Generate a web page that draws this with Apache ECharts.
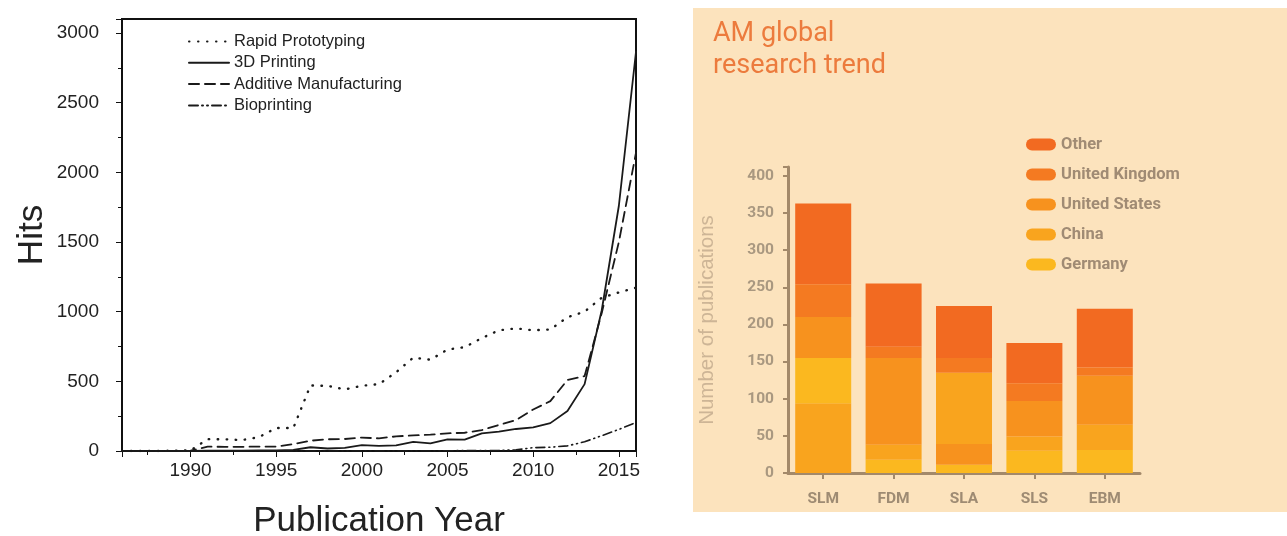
<!DOCTYPE html>
<html>
<head>
<meta charset="utf-8">
<script src="https://cdn.jsdelivr.net/npm/echarts@6/dist/echarts.min.js"></script>
<style>
html,body{margin:0;padding:0;background:#ffffff;}
#chart{width:1287px;height:536px;}
</style>
</head>
<body>
<div id="chart"></div>
<script>
// ---------- Left chart: hits per publication year ----------
const years = [1986,1987,1988,1989,1990,1991,1992,1993,1994,1995,1996,1997,1998,1999,2000,2001,2002,2003,2004,2005,2006,2007,2008,2009,2010,2011,2012,2013,2014,2015,2016];
const rapidPrototyping = [0,0,0,2,5,85,84,78,100,165,165,470,468,442,468,480,565,670,655,728,745,810,866,880,866,872,960,1000,1100,1138,1172];
const printing3D = [0,0,0,0,0,2,3,3,4,5,8,27,18,22,42,37,40,65,55,84,82,127,139,158,170,200,287,480,1010,1760,2865];
const additiveManufacturing = [0,0,0,0,2,31,30,30,32,32,50,74,84,86,96,91,105,112,117,127,131,150,187,222,298,358,510,538,990,1500,2140];
const bioprinting = [0,0,0,0,0,0,0,0,0,0,0,0,0,0,0,0,0,0,0,2,3,3,5,8,24,27,37,66,110,155,205];

// ---------- Right chart: AM global research trend ----------
const processes = ['SLM','FDM','SLA','SLS','EBM'];
const germany = [61,18,11,30,31];
const china = [94,20,96,19,34];
const unitedStates = [55,117,28,48,66];
const unitedKingdom = [44,15,20,24,11];
const other = [109,85,70,54,79];
// where the China block sits in each bar's stack (as drawn in the original)
const chinaPosition = ['bottom','normal','aboveUS','normal','normal'];

const countryColors = {
  'Other':'#F26A21',
  'United Kingdom':'#F47A21',
  'United States':'#F7921E',
  'China':'#F9A41E',
  'Germany':'#FBB81F'
};

function pairs(xs, ys){ return xs.map((x,i)=>[x, ys[i]]); }
function chinaAt(pos){ return china.map((v,i)=> chinaPosition[i]===pos ? v : 0); }

const ink = '#1a1a1a';
function lineSeries(name, data, type, width){
  return {
    name: name, type:'line', xAxisIndex:0, yAxisIndex:0,
    data: pairs(years, data), symbol:'none', showSymbol:false,
    lineStyle:{color:ink, width:width, type:type, cap:'round'},
    itemStyle:{color:ink},
    animation:false
  };
}
function barSeries(name, data){
  return {
    name: name, type:'bar', stack:'am', xAxisIndex:1, yAxisIndex:1,
    data: data, barWidth:56,
    itemStyle:{color:countryColors[name]},
    animation:false
  };
}

const pill = 'path://M6,0 L24,0 A6,6 0 0 1 24,12 L6,12 A6,6 0 0 1 6,0 Z';
const brown = '#A3896A';

const option = {
  animation:false,
  title:{
    text:'AM global\nresearch trend',
    left:708, top:13,
    textStyle:{fontFamily:'Roboto', fontSize:27, fontWeight:'normal', color:'#EC7B3D', lineHeight:32}
  },
  graphic:[
    {type:'rect', shape:{x:693, y:8, width:594, height:504}, style:{fill:'#FCE3BD'}, z:-10, silent:true}
  ],
  legend:[
    {
      data:['Rapid Prototyping','3D Printing','Additive Manufacturing','Bioprinting'],
      orient:'vertical', left:183, top:28,
      itemWidth:40, itemHeight:14, itemGap:4.3,
      itemStyle:{opacity:0},
      textStyle:{fontFamily:'Liberation Sans', fontSize:16.5, color:'#222'}
    },
    {
      data:['Other','United Kingdom','United States','China','Germany'],
      orient:'vertical', left:1021, top:131,
      itemWidth:30, itemHeight:12, itemGap:13, icon:pill,
      textStyle:{fontFamily:'Liberation Sans Narrow, Roboto', fontSize:16.5, fontWeight:'bold', color:'#A08B74'}
    }
  ],
  grid:[
    {left:122, width:514, top:19, bottom:85, show:true, borderColor:'#111', borderWidth:2, backgroundColor:'transparent', outerBoundsMode:'none', containLabel:false},
    {left:788, width:352, top:167, bottom:63, outerBoundsMode:'none', containLabel:false}
  ],
  xAxis:[
    {
      type:'value', gridIndex:0, min:1986, max:2016, splitNumber:6,
      name:'Publication Year', nameLocation:'middle', nameGap:53,
      nameTextStyle:{fontFamily:'Liberation Sans', fontSize:35, color:'#222'},
      axisLine:{show:true, lineStyle:{color:'#111', width:1.5}},
      axisTick:{show:true, length:6, lineStyle:{color:'#111'}},
      minorTick:{show:true, splitNumber:2, length:4, lineStyle:{color:'#111'}},
      axisLabel:{fontFamily:'Liberation Sans', fontSize:19, color:'#222', margin:10,
        formatter:function(v){ return v % 5 === 0 ? String(v) : ''; }},
      splitLine:{show:false}
    },
    {
      type:'category', gridIndex:1, data:processes,
      axisLine:{show:true, lineStyle:{color:brown, width:3}},
      axisTick:{show:true, alignWithLabel:true, length:6, lineStyle:{color:brown, width:2}},
      axisLabel:{fontFamily:'Liberation Sans Narrow, Roboto', fontSize:15.5, fontWeight:'bold', color:'#9E8B73', margin:18}
    }
  ],
  yAxis:[
    {
      type:'value', gridIndex:0, min:0, max:3100, interval:500,
      name:'Hits', nameLocation:'middle', nameGap:72,
      nameTextStyle:{fontFamily:'Liberation Sans', fontSize:35, color:'#222'},
      axisLine:{show:true, lineStyle:{color:'#111', width:1.5}},
      axisTick:{show:true, length:6, lineStyle:{color:'#111'}},
      minorTick:{show:true, splitNumber:2, length:4, lineStyle:{color:'#111'}},
      axisLabel:{fontFamily:'Liberation Sans', fontSize:19, color:'#222', margin:23,
        formatter:function(v){ return v % 500 === 0 ? String(v) : ''; }},
      splitLine:{show:false}
    },
    {
      type:'value', gridIndex:1, min:0, max:412, interval:50,
      name:'Number of publications', nameLocation:'middle', nameGap:70,
      nameTextStyle:{fontFamily:'Liberation Sans, Roboto', fontSize:20.5, color:'#CDB596'},
      axisLine:{show:true, lineStyle:{color:brown, width:3}},
      axisTick:{show:true, length:5, lineStyle:{color:brown, width:2}},
      axisLabel:{fontFamily:'Liberation Sans Narrow, Roboto', fontSize:15.5, fontWeight:'bold', color:'#A99880', margin:14,
        formatter:function(v){ return v % 50 === 0 ? String(v) : ''; }},
      splitLine:{show:false}
    }
  ],
  series:[
    lineSeries('Rapid Prototyping', rapidPrototyping, [0.5, 8.5], 2.4),
    lineSeries('3D Printing', printing3D, 'solid', 1.8),
    lineSeries('Additive Manufacturing', additiveManufacturing, [10, 6], 1.8),
    lineSeries('Bioprinting', bioprinting, [9, 4, 1, 4, 1, 4], 1.6),
    barSeries('China', chinaAt('bottom')),
    barSeries('Germany', germany),
    barSeries('China', chinaAt('normal')),
    barSeries('United States', unitedStates),
    barSeries('China', chinaAt('aboveUS')),
    barSeries('United Kingdom', unitedKingdom),
    barSeries('Other', other)
  ]
};

const chart = echarts.init(document.getElementById('chart'), null, {renderer:'canvas'});
chart.setOption(option);
</script>
</body>
</html>
